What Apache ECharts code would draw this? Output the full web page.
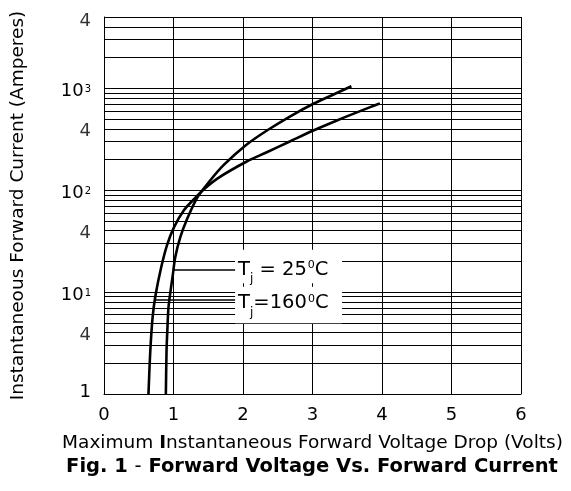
<!DOCTYPE html>
<html><head><meta charset="utf-8">
<script src="https://cdn.jsdelivr.net/npm/echarts@6/dist/echarts.min.js"></script>
<style>html,body{margin:0;padding:0;background:#fff}#c{width:571px;height:491px}</style>
</head><body><div id="c"></div>
<script>
// ---- data ----
const voltTicks = [0, 1, 2, 3, 4, 5, 6];
const currentGridLines = [2,3,4,5,6,7,8,9,10,20,30,40,50,60,70,80,90,100,200,300,400,500,600,700,800,900,1000,2000,3000,4000,5000];
const fourLabelValues = [4, 40, 400, 4000];
const fourLabelText = '4';

const tj25Volts = [0.89, 0.90, 0.91, 0.925, 0.94, 0.99, 1.025, 1.10, 1.19, 1.34, 1.53, 1.72, 2.04, 2.35, 2.68, 3.02, 3.31, 3.56];
const tj25Amps  = [1,    2.7,  4.0,  6.7,   8.4,  14.7, 22,    35,   51,   84,   125,  176,  276,  387,  531,  708,  873,  1047];

const tj160Volts = [0.64, 0.667, 0.70, 0.742, 0.824, 0.907, 1.008, 1.152, 1.29, 1.43, 1.63, 2.04, 2.35, 2.68, 3.02, 3.36, 3.84, 3.97];
const tj160Amps  = [1,    2.7,   5.7,  9.36,  17.6,  28.9,  43.4,  63.8,  81,   101,  130,  189,  237,  302,  387,  486,  656,  708];

const leader25  = [[1.00, 16.5], [1.886, 16.5]];
const leader160 = [[0.745, 8.36], [1.886, 8.36]];
const legendAnchors = [[1.886, 17.8], [1.886, 7.47]];
const legendTemps = ['25', '160'];

const FONT = 'DejaVu Sans';
const zip = (a, b) => a.map((v, i) => [v, b[i]]);

const chart = echarts.init(document.getElementById('c'), null, {renderer: 'canvas'});
chart.setOption({
  animation: false,
  backgroundColor: '#fff',
  title: {
    text: '{b|Fig. 1 }{n|-}{b| Forward Voltage Vs. Forward Current}',
    left: 312, top: 457, textAlign: 'center', padding: 0,
    textStyle: {
      rich: {
        b: {fontFamily: FONT, fontSize: 19.5, fontWeight: 'bold', color: '#000'},
        n: {fontFamily: FONT, fontSize: 19.5, fontWeight: 'normal', color: '#000'}
      }
    }
  },
  grid: {left: 104, right: 50, top: 17, bottom: 97, containLabel: false},
  xAxis: {
    type: 'value', min: voltTicks[0], max: voltTicks[voltTicks.length - 1], interval: 1,
    name: '{n|Maximum }{b|I}{n|nstantaneous Forward Voltage Drop (Volts)}',
    nameLocation: 'middle', nameGap: 40,
    nameTextStyle: {
      rich: {
        n: {fontFamily: FONT, fontSize: 18.5, color: '#000'},
        b: {fontFamily: FONT, fontSize: 18.5, color: '#000', fontWeight: 'bold'}
      }
    },
    axisLine: {show: true, lineStyle: {color: '#000', width: 1}},
    axisTick: {show: false},
    axisLabel: {fontFamily: FONT, fontSize: 18, color: '#000', margin: 12},
    splitLine: {show: true, lineStyle: {color: '#000', width: 1}}
  },
  yAxis: {
    type: 'log', logBase: 10, min: 1, max: currentGridLines[currentGridLines.length - 1],
    name: 'Instantaneous Forward Current (Amperes)',
    nameLocation: 'middle', nameGap: 76,
    nameTextStyle: {fontFamily: FONT, fontSize: 18.5, color: '#000'},
    axisLine: {show: true, lineStyle: {color: '#000', width: 1}},
    axisTick: {show: false},
    splitLine: {show: false},
    axisLabel: {
      showMaxLabel: false, margin: 13,
      formatter: function (v) {
        if (v === 1) return '{o|1}';
        return '{a|10}{s|' + Math.round(Math.log10(v)) + '}';
      },
      rich: {
        o: {fontFamily: FONT, fontSize: 18, color: '#000', lineHeight: 20, padding: [0, 0, 4, 0]},
        a: {fontFamily: FONT, fontSize: 18, color: '#000', lineHeight: 20, padding: [6, 0, 0, 0]},
        s: {fontFamily: FONT, fontSize: 10, color: '#000', lineHeight: 10, verticalAlign: 'top', padding: [6, 0, 0, 1]}
      }
    }
  },
  series: [
    {
      name: 'grid', type: 'line', data: [[0, 1]], symbol: 'none', showSymbol: false, z: 1,
      lineStyle: {width: 0},
      markLine: {
        silent: true, symbol: ['none', 'none'], animation: false, z: 1,
        label: {show: false},
        lineStyle: {color: '#000', width: 1, type: 'solid'},
        emphasis: {disabled: true},
        data: currentGridLines.map(v => ({yAxis: v}))
      }
    },
    {
      name: 'Tj = 25°C', type: 'line', data: zip(tj25Volts, tj25Amps), z: 6,
      symbol: 'none', smooth: 0.3,
      lineStyle: {color: '#000', width: 2.6}
    },
    {
      name: 'Tj = 160°C', type: 'line', data: zip(tj160Volts, tj160Amps), z: 6,
      symbol: 'none', smooth: 0.3,
      lineStyle: {color: '#000', width: 2.6}
    },
    {
      name: 'leaders', type: 'line', data: [[0, 1]], symbol: 'none', showSymbol: false, z: 12,
      lineStyle: {width: 0},
      markLine: {
        silent: true, symbol: ['none', 'none'], animation: false, z: 12,
        label: {show: false},
        lineStyle: {color: '#000', width: 1.5, type: 'solid'},
        data: [
          [{coord: leader25[0]}, {coord: leader25[1]}],
          [{coord: leader160[0]}, {coord: leader160[1]}]
        ]
      }
    },
    {
      name: 'legendText', type: 'scatter', symbolSize: 0, z: 10, silent: true,
      itemStyle: {color: '#000'},
      data: legendAnchors.map((p, i) => ({
        value: p,
        label: {padding: i === 0 ? [10, 0, 1.5, 3] : [6.5, 0, 8, 3]}
      })),
      label: {
        show: true, position: 'right', distance: 0, color: '#000',
        textBorderWidth: 0, opacity: 1,
        backgroundColor: '#fff', width: 104,
        formatter: function (p) {
          const t = legendTemps[p.dataIndex];
          return p.dataIndex === 0
            ? '{t|T}{j|j}{t| = ' + t + '}{d|0}{t|C}'
            : '{t|T}{j|j}{t|=' + t + '}{d|0}{t|C}';
        },
        rich: {
          t: {fontFamily: FONT, fontSize: 19.5, color: '#000', lineHeight: 22, verticalAlign: 'top'},
          j: {fontFamily: FONT, fontSize: 12, color: '#000', lineHeight: 12, verticalAlign: 'top', padding: [13.5, 0, 0, 0]},
          d: {fontFamily: FONT, fontSize: 11, color: '#000', lineHeight: 12, verticalAlign: 'top', padding: [0, 0, 0, 1]}
        }
      }
    },
    {
      name: 'yFourLabels', type: 'scatter', symbolSize: 0, z: 10, silent: true, clip: false,
      itemStyle: {color: '#000'},
      data: fourLabelValues.map((v, i) => ({
        value: [0, v],
        label: {offset: [0, i === fourLabelValues.length - 1 ? -6 : 3]}
      })),
      label: {
        show: true, position: 'left', distance: 13,
        formatter: fourLabelText,
        fontFamily: FONT, fontSize: 18, color: '#000'
      }
    }
  ]
});
</script>
</body></html>
